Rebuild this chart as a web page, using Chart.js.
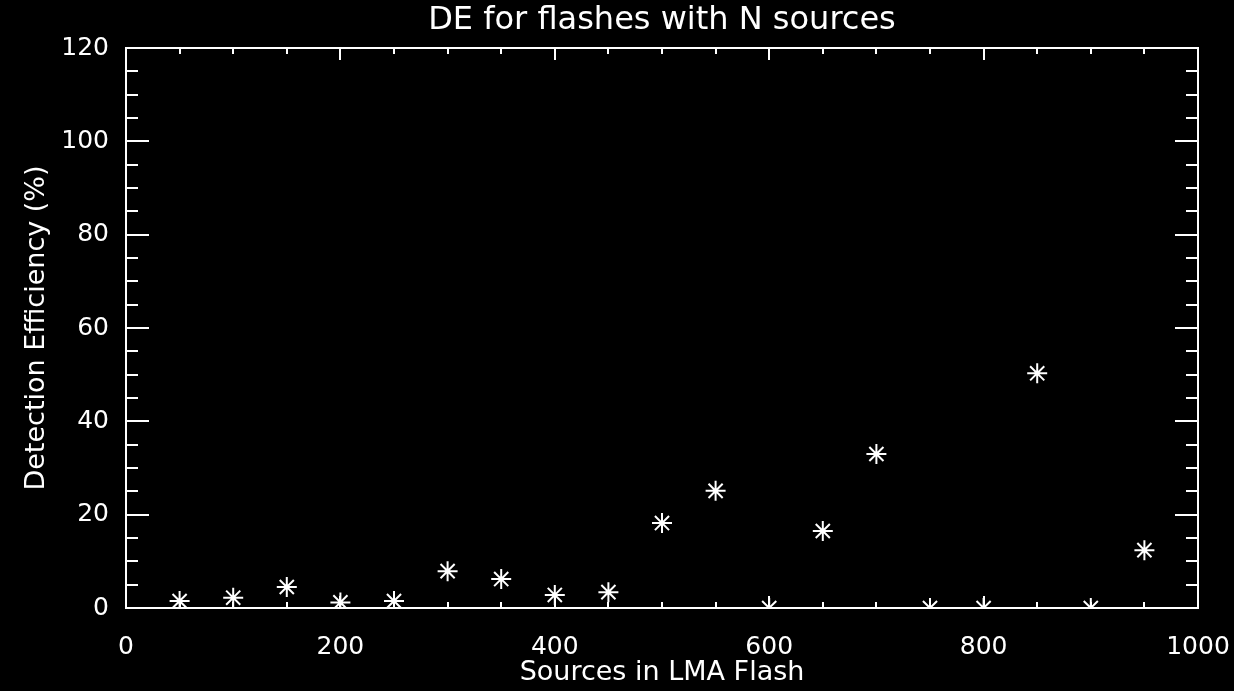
<!DOCTYPE html>
<html>
<head>
<meta charset="utf-8">
<script src="https://cdn.jsdelivr.net/npm/chart.js@4/dist/chart.umd.min.js"></script>
<style>
  html, body { margin: 0; padding: 0; background: #000; }
  canvas { display: block; }
</style>
</head>
<body>
<canvas id="chart" width="1234" height="691"></canvas>
<script>
// data
const sources = [50, 100, 150, 200, 250, 300, 350, 400, 450, 500, 550, 600, 650, 700, 750, 800, 850, 900, 950];
const efficiency = [1.5, 2.2, 4.5, 1.2, 1.5, 7.9, 6.2, 2.8, 3.4, 18.2, 25.1, 0, 16.5, 33, 0, 0, 50.3, 0, 12.4];

const xMajorTicks = [0, 200, 400, 600, 800, 1000];
const xMinorTicks = [50, 100, 150, 250, 300, 350, 450, 500, 550, 650, 700, 750, 850, 900, 950];
const yMajorTicks = [0, 20, 40, 60, 80, 100, 120];
const yMinorTicks = [5, 10, 15, 25, 30, 35, 45, 50, 55, 65, 70, 75, 85, 90, 95, 105, 110, 115];

const FONT = 'DejaVu Sans';

// IDL style box with inward ticks on all four sides
const boxTicks = {
    id: 'boxTicks',
    afterDatasetsDraw(chart) {
        const {ctx, chartArea: a, scales} = chart;
        const x = scales.x, y = scales.y;
        ctx.save();
        ctx.strokeStyle = '#fff';
        ctx.lineWidth = 2;
        ctx.strokeRect(a.left, a.top, a.right - a.left, a.bottom - a.top);
        ctx.beginPath();
        const xt = (v, len) => {
            const px = Math.round(x.getPixelForValue(v));
            ctx.moveTo(px, a.bottom); ctx.lineTo(px, a.bottom - len);
            ctx.moveTo(px, a.top); ctx.lineTo(px, a.top + len);
        };
        const yt = (v, len) => {
            const py = Math.round(y.getPixelForValue(v));
            ctx.moveTo(a.left, py); ctx.lineTo(a.left + len, py);
            ctx.moveTo(a.right, py); ctx.lineTo(a.right - len, py);
        };
        xMajorTicks.forEach(v => xt(v, 12));
        xMinorTicks.forEach(v => xt(v, 6));
        yMajorTicks.forEach(v => yt(v, 23));
        yMinorTicks.forEach(v => yt(v, 12));
        ctx.stroke();
        ctx.restore();
    }
};

new Chart(document.getElementById('chart'), {
    type: 'scatter',
    data: {
        datasets: [{
            label: 'DE',
            data: sources.map((s, i) => ({x: s, y: efficiency[i]})),
            pointStyle: 'star',
            pointRadius: 10,
            pointHoverRadius: 10,
            borderWidth: 2,
            borderColor: '#fff',
            backgroundColor: '#fff',
            clip: 0
        }]
    },
    options: {
        responsive: false,
        animation: false,
        events: [],
        layout: {padding: 0},
        plugins: {
            legend: {display: false},
            tooltip: {enabled: false},
            title: {
                display: true,
                text: 'DE for flashes with N sources',
                color: '#fff',
                fullSize: false,
                font: {family: FONT, size: 32, weight: 'normal', lineHeight: 1},
                padding: {top: 5, bottom: 11}
            }
        },
        scales: {
            x: {
                type: 'linear',
                min: 0,
                max: 1000,
                afterBuildTicks: s => { s.ticks = xMajorTicks.map(v => ({value: v})); },
                afterFit: s => { s.height = 83; s.paddingLeft = 0; s.paddingRight = 36; },
                grid: {display: false},
                border: {display: false},
                ticks: {
                    color: '#fff',
                    padding: 16,
                    maxRotation: 0,
                    callback: v => String(v),
                    font: {family: FONT, size: 25}
                },
                title: {
                    display: true,
                    text: 'Sources in LMA Flash',
                    color: '#fff',
                    font: {family: FONT, size: 27},
                    padding: {top: 0, bottom: 2}
                }
            },
            y: {
                type: 'linear',
                min: 0,
                max: 120,
                afterBuildTicks: s => { s.ticks = yMajorTicks.map(v => ({value: v})); },
                afterFit: s => { s.width = 126; },
                grid: {display: false},
                border: {display: false},
                ticks: {
                    color: '#fff',
                    padding: 9,
                    callback: v => String(v),
                    font: {family: FONT, size: 25}
                },
                title: {
                    display: true,
                    text: 'Detection Efficiency (%)',
                    color: '#fff',
                    font: {family: FONT, size: 27},
                    padding: {top: 21, bottom: 0}
                }
            }
        }
    },
    plugins: [boxTicks]
});
</script>
</body>
</html>
